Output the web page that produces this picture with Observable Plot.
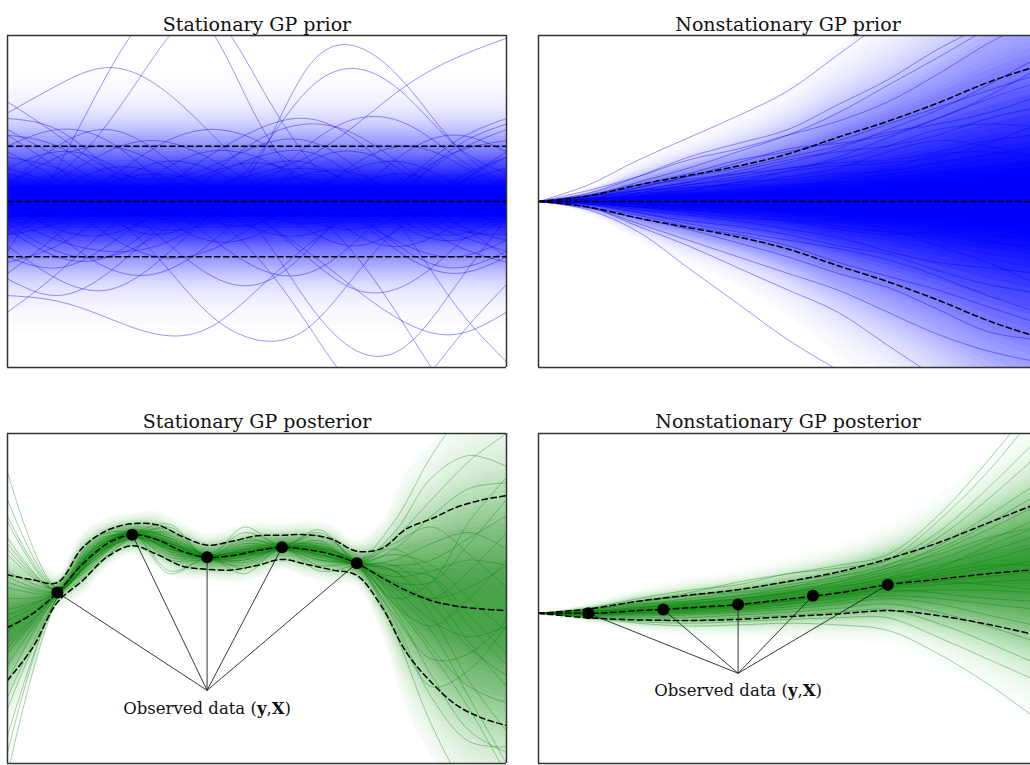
<!DOCTYPE html>
<html>
<head>
<meta charset="utf-8">
<script src="https://cdn.jsdelivr.net/npm/d3@7"></script>
<script src="https://cdn.jsdelivr.net/npm/@observablehq/plot@0.6"></script>
<style>
  html, body { margin: 0; padding: 0; background: #fff; overflow: hidden; }
  #fig { position: relative; width: 1030px; height: 765px; overflow: hidden; }
  .panel { position: absolute; width: 503px; }
  .panel svg { max-width: none; display: block; }
</style>
</head>
<body>
<div id="fig"></div>
<script>
const LABEL = "Observed data (y,X)";

// ---------- Stationary GP prior ----------
const spX = [0, 10];
const spMean = [0, 0];
const spSd = [1, 1];
const spKnots = [0, 1, 2, 3, 4, 5, 6, 7, 8, 9, 10];
const spSamples = [
  [-0.9, 0.6, 2.3, 3.5, 3.2, 1.5, 0.2, -0.6, -0.8, -0.4, 0.2],
  [0.2, 0.5, 1.4, 2.7, 3.4, 2.2, 0.8, 0.0, -0.2, 0.3, 0.9],
  [-0.3, -0.7, -0.9, -0.8, -0.3, 0.7, 2.4, 2.8, 2.1, 1.0, 0.3],
  [0.5, 0.2, -0.3, -0.6, -0.2, 0.8, 2.0, 2.4, 1.9, 1.0, 0.5],
  [-0.5, -1.0, -1.0, -0.4, 0.2, 0.5, 0.8, 1.4, 2.1, 2.6, 2.95],
  [1.6, 2.1, 2.42, 2.1, 1.3, 0.4, -0.3, -0.5, -0.2, 0.3, 0.6],
  [-1.7, -1.8, -2.1, -2.4, -2.3, -1.6, -0.8, -0.2, 0.1, 0.0, -0.3],
  [0.6, 0.3, -0.2, -1.0, -2.0, -2.5, -2.3, -1.3, -0.3, 0.4, 0.8],
  [0.3, 0.8, 1.0, 0.7, 0.2, -0.5, -1.8, -2.7, -2.6, -1.5, -0.3],
  [1.2, 1.0, 0.5, 0.2, -0.2, -1.0, -2.2, -3.4, -3.5, -2.5, -1.5],
  [-0.6, -0.2, 0.3, 0.5, 0.3, 0.0, -0.2, -1.0, -2.3, -3.6, -4.2],
  [0.0, -0.5, -0.6, -0.2, 0.4, 0.8, 0.9, 0.4, -0.6, -1.9, -2.9],
  [-0.6, -0.4, 0.0, 0.3, 0.2, -0.3, -0.9, -1.6, -2.2, -2.4, -2.0],
  [0.8, 0.6, 0.2, -0.1, 0.0, 0.4, 0.6, 0.3, -0.2, -0.6, -0.9],
  [-0.3, 0.2, 0.6, 0.5, 0.0, -0.5, -0.6, -0.2, 0.4, 0.9, 1.1],
  [1.5, 1.3, 0.6, -0.2, -0.7, -0.6, 0.0, 0.7, 1.0, 0.7, 0.1],
  [-1.1, -0.8, -0.2, 0.5, 0.9, 0.8, 0.3, -0.3, -0.8, -1.0, -0.7],
  [0.1, -0.6, -1.2, -1.3, -0.8, 0.0, 0.7, 0.9, 0.5, -0.1, -0.4],
  [-2.0, -1.3, -0.5, 0.0, 0.1, -0.2, -0.4, -0.2, 0.4, 1.1, 1.5],
  [1.2, 0.6, 0.0, -0.3, -0.3, 0.2, 1.0, 1.5, 1.4, 0.8, 0.2],
  [0.3, 1.0, 1.3, 0.9, 0.2, -0.2, -0.1, 0.3, 0.5, 0.1, -0.6],
  [-0.8, -1.4, -1.6, -1.1, -0.3, 0.3, 0.4, 0.0, -0.5, -0.7, -0.3],
  [0.6, 0.9, 0.7, 0.1, -0.6, -1.2, -1.3, -0.7, 0.2, 1.0, 1.4],
  [-0.2, 0.1, 0.0, -0.6, -1.3, -1.5, -0.9, 0.1, 0.9, 1.2, 0.9],
  [1.8, 1.2, 0.6, 0.4, 0.6, 1.0, 1.1, 0.6, -0.2, -0.8, -1.1],
  [-1.4, -1.7, -1.3, -0.5, 0.4, 1.1, 1.4, 1.2, 0.6, 0.0, -0.5],
  [0.4, 0.0, -0.6, -1.0, -0.9, -0.4, 0.2, 0.4, 0.1, -0.4, -1.0],
  [-0.5, -0.1, 0.4, 1.0, 1.3, 1.1, 0.5, -0.2, -0.9, -1.2, -0.9],
  [1.0, 1.3, 1.1, 0.4, -0.3, -0.4, 0.1, 0.6, 0.7, 0.3, -0.2],
  [-1.0, -1.2, -0.8, -0.2, 0.0, -0.3, -1.0, -1.6, -1.5, -0.8, 0.1],
  [0.0, 0.4, 0.9, 1.1, 0.8, 0.3, -0.1, -0.1, 0.3, 0.9, 1.3],
  [-0.1, -0.3, -0.2, 0.2, 0.8, 1.3, 1.5, 1.1, 0.3, -0.4, -0.7],
  [0.9, 0.4, -0.2, -0.5, -0.4, 0.1, 0.5, 0.5, 0.0, -0.5, -0.6],
  [-0.4, -0.9, -1.0, -0.6, 0.1, 0.6, 0.7, 0.2, -0.4, -0.6, -0.2],
  [1.3, 0.8, 0.3, 0.2, 0.5, 0.7, 0.4, -0.3, -1.0, -1.3, -1.0],
  [-1.3, -0.6, 0.2, 0.7, 0.6, 0.1, -0.5, -0.8, -0.4, 0.3, 0.8]
];

// ---------- Nonstationary GP prior ----------
const npX = [0, 1, 2, 3, 4, 5, 6, 7, 8, 9, 10];
const npMean = [0, 0, 0, 0, 0, 0, 0, 0, 0, 0, 0];
const npSd = [0, 0.1, 0.3, 0.47, 0.64, 0.86, 1.16, 1.45, 1.78, 2.15, 2.45];
const npKnots = [0, 1, 2, 3, 4, 5, 6, 7, 8, 9, 10];
const npSamples = [
  [0, 0.3, 0.75, 1.15, 1.55, 2.0, 2.65, 3.3, 3.9, 4.5, 5.0],
  [0, 0.15, 0.45, 0.8, 1.05, 1.3, 1.75, 2.2, 2.75, 3.2, 3.6],
  [0, 0.1, 0.35, 0.6, 0.9, 1.2, 1.6, 2.1, 2.6, 3.1, 3.4],
  [0, 0.2, 0.45, 0.75, 0.95, 1.2, 1.45, 1.8, 2.3, 2.85, 3.3],
  [0, 0.12, 0.3, 0.5, 0.75, 0.9, 1.1, 1.4, 1.7, 2.0, 2.3],
  [0, 0.05, 0.25, 0.45, 0.7, 0.95, 1.05, 1.2, 1.5, 1.9, 2.4],
  [0, 0.1, 0.2, 0.35, 0.55, 0.75, 0.9, 1.0, 1.2, 1.5, 1.7],
  [0, 0.08, 0.28, 0.4, 0.5, 0.6, 0.75, 1.0, 1.3, 1.4, 1.35],
  [0, 0.05, 0.15, 0.3, 0.45, 0.6, 0.7, 0.75, 0.9, 1.1, 1.2],
  [0, 0.07, 0.2, 0.25, 0.3, 0.45, 0.6, 0.9, 1.1, 1.0, 0.8],
  [0, 0.02, 0.1, 0.2, 0.35, 0.4, 0.5, 0.55, 0.7, 0.85, 1.0],
  [0, 0.05, 0.1, 0.15, 0.2, 0.3, 0.35, 0.5, 0.55, 0.45, 0.5],
  [0, 0.03, 0.05, 0.05, 0.1, 0.1, 0.15, 0.25, 0.35, 0.5, 0.65],
  [0, 0.0, 0.0, 0.05, 0.0, -0.1, -0.05, 0.05, 0.2, 0.25, 0.2],
  [0, -0.02, -0.05, -0.1, -0.1, -0.2, -0.25, -0.2, -0.3, -0.4, -0.55],
  [0, -0.05, -0.1, -0.2, -0.3, -0.35, -0.5, -0.6, -0.55, -0.7, -0.9],
  [0, -0.03, -0.15, -0.25, -0.35, -0.5, -0.65, -0.9, -1.1, -1.2, -1.3],
  [0, -0.06, -0.2, -0.35, -0.45, -0.6, -0.8, -0.95, -1.25, -1.5, -1.65],
  [0, -0.1, -0.25, -0.45, -0.6, -0.8, -1.1, -1.35, -1.6, -1.9, -2.2],
  [0, -0.12, -0.3, -0.5, -0.75, -1.0, -1.3, -1.55, -1.95, -2.35, -2.5],
  [0, -0.1, -0.4, -0.7, -1.0, -1.3, -1.6, -2.0, -2.4, -2.7, -2.9],
  [0, -0.1, -0.45, -0.8, -1.2, -1.6, -2.0, -2.6, -3.2, -3.8, -4.2],
  [0, -0.15, -0.55, -1.2, -1.85, -2.5, -3.05, -3.6, -4.2, -4.8, -5.3],
  [0, 0.1, 0.15, 0.2, 0.35, 0.55, 0.8, 1.15, 1.5, 1.85, 2.15],
  [0, 0.05, 0.2, 0.35, 0.5, 0.7, 0.95, 1.3, 1.65, 2.1, 2.6],
  [0, -0.05, -0.1, -0.15, -0.25, -0.35, -0.35, -0.5, -0.8, -1.1, -1.5],
  [0, 0.0, -0.05, -0.1, -0.2, -0.3, -0.45, -0.55, -0.6, -0.75, -0.8],
  [0, 0.05, 0.1, 0.25, 0.3, 0.25, 0.4, 0.6, 0.85, 0.9, 0.8],
  [0, -0.02, -0.1, -0.15, -0.2, -0.1, 0.0, -0.1, -0.2, -0.1, 0.1],
  [0, 0.1, 0.25, 0.45, 0.6, 0.8, 1.0, 1.25, 1.4, 1.6, 1.9],
  [0, -0.05, -0.2, -0.4, -0.55, -0.7, -0.85, -1.05, -1.35, -1.7, -2.0],
  [0, 0.03, 0.15, 0.3, 0.4, 0.55, 0.65, 0.7, 0.8, 1.05, 1.4]
];

// ---------- Stationary GP posterior ----------
const stX = [0, 0.5, 1, 1.5, 2, 2.5, 3, 3.5, 4, 4.5, 5, 5.5, 6, 6.5, 7, 7.5, 8, 8.5, 9, 9.5, 10];
const stMean = [-0.53, -0.28, 0.11, 0.62, 1.0, 1.16, 1.07, 0.86, 0.75, 0.78, 0.87, 0.93, 0.89, 0.8, 0.64, 0.38, 0.14, -0.04, -0.14, -0.19, -0.22];
const stSd = [0.96, 0.62, 0.18, 0.3, 0.24, 0.2, 0.27, 0.27, 0.22, 0.26, 0.27, 0.22, 0.27, 0.28, 0.22, 0.53, 1.13, 1.49, 1.8, 1.98, 2.09];
const stKnots = [0, 1, 1.75, 2.5, 3.25, 4, 4.75, 5.5, 6.25, 7, 7.75, 8.5, 9.25, 10];
const stSamples = [
  [2.3, 0.2, 0.9, 1.2, 1.0, 0.8, 0.85, 0.95, 0.9, 0.7, 1.4, 2.6, 3.5, 4.0],
  [1.5, 0.18, 0.95, 1.25, 1.1, 0.8, 0.8, 0.9, 0.85, 0.65, 0.6, 0.7, 1.1, 1.5],
  [0.8, 0.15, 0.8, 1.15, 1.0, 0.75, 0.9, 1.0, 0.95, 0.66, 0.2, -0.4, -0.7, -0.5],
  [0.2, 0.1, 0.75, 1.1, 0.9, 0.72, 0.75, 0.9, 0.8, 0.62, 0.1, -0.6, -1.8, -3.0],
  [-0.3, 0.12, 0.85, 1.2, 1.05, 0.77, 0.88, 0.96, 0.92, 0.64, -0.2, -1.4, -2.4, -2.8],
  [-0.8, 0.08, 0.9, 1.18, 0.95, 0.74, 0.8, 0.92, 0.82, 0.6, 0.4, 0.5, 0.7, 0.6],
  [-1.2, 0.05, 0.7, 1.12, 0.9, 0.73, 0.78, 0.88, 0.78, 0.58, -0.6, -2.3, -3.5, -4.0],
  [-1.8, 0.02, 0.75, 1.14, 0.92, 0.76, 0.83, 0.94, 0.88, 0.63, 0.9, 1.5, 2.0, 2.1],
  [-2.5, 0.02, 0.8, 1.16, 0.98, 0.78, 0.86, 0.93, 0.86, 0.66, 0.5, -0.1, -0.9, -1.4],
  [-3.2, 0.0, 0.85, 1.2, 1.02, 0.72, 0.76, 0.9, 0.9, 0.68, 0.0, -0.9, -1.6, -1.9],
  [0.5, 0.18, 0.95, 1.22, 1.1, 0.8, 1.2, 0.97, 1.0, 0.7, 1.1, 1.8, 2.5, 3.0],
  [-0.6, 0.1, 0.7, 1.15, 0.7, 0.7, 0.6, 0.9, 0.6, 0.62, 0.3, 0.0, 0.2, 0.6],
  [1.1, 0.14, 0.8, 1.1, 1.3, 0.78, 1.0, 0.95, 1.15, 0.64, -0.3, -1.1, -1.0, -0.4],
  [-0.2, 0.11, 1.0, 1.17, 0.8, 0.74, 0.65, 0.92, 0.75, 0.62, 0.7, 1.0, 1.2, 0.9],
  [-1.5, 0.06, 0.6, 1.1, 1.2, 0.77, 0.95, 0.94, 0.95, 0.65, -0.1, -0.5, 0.0, 0.7],
  [0.0, 0.1, 0.8, 1.2, 0.85, 0.75, 0.9, 0.91, 0.7, 0.63, 0.6, 0.1, -0.8, -1.6],
  [-2.0, 0.03, 0.9, 1.15, 1.05, 0.72, 0.7, 0.92, 0.92, 0.61, -0.4, -1.8, -2.6, -2.7],
  [1.8, 0.19, 0.75, 1.18, 0.95, 0.76, 1.05, 0.96, 0.8, 0.66, 1.2, 2.2, 2.6, 2.4],
  [-0.9, 0.09, 0.85, 1.2, 0.5, 0.74, 0.85, 0.93, 1.2, 0.64, 0.2, 0.0, 0.5, 1.2],
  [0.4, 0.13, 0.8, 1.14, 1.0, 0.79, 0.55, 0.9, 0.85, 0.6, -0.1, -1.0, -2.0, -3.2],
  [-2.8, 0.03, 0.7, 1.1, 0.95, 0.74, 0.8, 0.94, 0.8, 0.65, 0.8, 0.6, 0.0, -0.6],
  [1.0, 0.16, 0.9, 1.2, 1.15, 0.76, 0.85, 0.97, 0.9, 0.63, 0.3, 0.3, 1.0, 1.8],
  [-0.4, 0.1, 0.9, 1.16, 0.9, 0.75, 0.8, 0.9, 0.88, 0.65, 0.5, 0.4, -0.3, -1.0],
  [0.3, 0.12, 0.75, 1.17, 1.0, 0.76, 0.82, 0.93, 0.86, 0.63, -0.5, -1.6, -1.3, -0.5],
  [1.4, 0.15, 1.05, 1.19, 1.25, 0.77, 1.1, 0.94, 1.05, 0.66, 0.9, 0.4, -0.5, -1.2],
  [-1.0, 0.07, 0.65, 1.13, 0.75, 0.73, 0.7, 0.91, 0.7, 0.62, 0.0, 0.3, 1.4, 2.2],
  [0.9, 0.14, 0.55, 1.15, 1.35, 0.76, 1.3, 0.95, 1.25, 0.65, 0.5, -0.3, -1.5, -2.4],
  [-0.5, 0.08, 1.1, 1.18, 0.45, 0.74, 0.45, 0.92, 0.5, 0.63, 1.0, 1.3, 0.8, 0.2]
];
const stObsX = [1, 2.5, 4, 5.5, 7];
const stObsY = [0.11, 1.16, 0.75, 0.93, 0.64];
const stTarget = [4, -1.67];
const stLabelY = -2.0;

// ---------- Nonstationary GP posterior ----------
const nsX = [0, 1, 2, 3, 4, 5, 6, 7, 8, 9, 10];
const nsMean = [-0.27, -0.27, -0.22, -0.17, -0.11, -0.01, 0.1, 0.25, 0.35, 0.45, 0.53];
const nsSd = [0, 0.08, 0.17, 0.23, 0.27, 0.32, 0.38, 0.47, 0.66, 0.92, 1.2];
const nsKnots = [0, 1, 2, 3, 4, 5, 6, 7, 8, 9, 10];
const nsSamples = [
  [-0.27, -0.2, -0.05, 0.05, 0.15, 0.3, 0.45, 0.7, 1.4, 2.3, 3.4],
  [-0.27, -0.22, -0.08, 0.05, 0.12, 0.25, 0.4, 0.6, 1.1, 1.8, 2.6],
  [-0.27, -0.23, -0.12, 0.0, 0.1, 0.2, 0.35, 0.55, 0.95, 1.5, 2.1],
  [-0.27, -0.25, -0.15, -0.05, 0.05, 0.15, 0.3, 0.5, 0.85, 1.25, 1.7],
  [-0.27, -0.24, -0.17, -0.08, 0.0, 0.12, 0.25, 0.45, 0.7, 1.05, 1.45],
  [-0.27, -0.26, -0.2, -0.12, -0.03, 0.08, 0.2, 0.38, 0.6, 0.85, 1.15],
  [-0.27, -0.27, -0.22, -0.15, -0.06, 0.05, 0.15, 0.32, 0.5, 0.7, 0.95],
  [-0.27, -0.25, -0.2, -0.15, -0.1, 0.0, 0.12, 0.28, 0.4, 0.55, 0.7],
  [-0.27, -0.28, -0.24, -0.18, -0.12, -0.04, 0.08, 0.22, 0.32, 0.4, 0.5],
  [-0.27, -0.28, -0.25, -0.2, -0.14, -0.06, 0.05, 0.18, 0.25, 0.3, 0.35],
  [-0.27, -0.29, -0.27, -0.23, -0.17, -0.1, 0.0, 0.12, 0.15, 0.15, 0.1],
  [-0.27, -0.3, -0.3, -0.27, -0.22, -0.15, -0.05, 0.05, 0.0, -0.1, -0.2],
  [-0.27, -0.31, -0.32, -0.3, -0.25, -0.2, -0.1, 0.0, -0.1, -0.3, -0.5],
  [-0.27, -0.32, -0.35, -0.35, -0.3, -0.25, -0.18, -0.1, -0.25, -0.5, -0.8],
  [-0.27, -0.33, -0.38, -0.4, -0.35, -0.3, -0.25, -0.2, -0.45, -0.8, -1.2],
  [-0.27, -0.34, -0.42, -0.45, -0.42, -0.38, -0.35, -0.35, -0.7, -1.1, -1.5],
  [-0.27, -0.35, -0.45, -0.5, -0.48, -0.45, -0.48, -0.58, -1.0, -1.55, -2.2],
  [-0.27, -0.2, -0.1, -0.05, 0.05, 0.2, 0.4, 0.62, 0.9, 1.35, 1.9],
  [-0.27, -0.26, -0.18, -0.1, -0.02, 0.1, 0.22, 0.35, 0.55, 0.95, 1.3],
  [-0.27, -0.29, -0.26, -0.22, -0.15, -0.05, 0.05, 0.2, 0.3, 0.25, 0.15],
  [-0.27, -0.27, -0.23, -0.2, -0.13, -0.04, 0.1, 0.25, 0.45, 0.6, 0.6],
  [-0.27, -0.3, -0.28, -0.25, -0.2, -0.1, 0.02, 0.15, 0.1, 0.0, -0.05],
  [-0.27, -0.24, -0.16, -0.1, 0.0, 0.1, 0.3, 0.55, 0.8, 1.1, 1.3],
  [-0.27, -0.18, 0.0, 0.15, 0.25, 0.45, 0.55, 0.7, 1.2, 2.0, 2.9],
  [-0.27, -0.22, -0.05, 0.1, 0.3, 0.45, 0.6, 0.8, 1.5, 2.5, 3.6]
];
const nsObsX = [1, 2.5, 4, 5.5, 7];
const nsObsY = [-0.27, -0.2, -0.11, 0.05, 0.25];
const nsTarget = [4, -1.36];
const nsLabelY = -1.67;

// ---------- drawing helpers ----------
const BLUE = "#0000ff";
const GREEN = "#008000";

// Stacked translucent bands around the mean; each band's opacity is chosen so the
// accumulated tint falls off smoothly with distance (in units of the dashed band).
function bandMarks(xs, mean, sd, fill, shadeStyle, curve) {
  const {peak, spread, extent, steps} = shadeStyle;
  const tint = (z) => peak * Math.exp(-(z * z) / (2 * spread * spread));
  const levels = d3.range(1, steps + 1).map((i) => (extent * i) / steps);
  const trans = levels.map((k, i) => 1 - tint((k + (i ? levels[i - 1] : 0)) / 2));
  trans.push(1);
  return levels.map((k, i) =>
    Plot.areaY(
      xs.map((x, j) => ({x, lo: mean[j] - k * sd[j], hi: mean[j] + k * sd[j]})),
      {x: "x", y1: "lo", y2: "hi", fill, fillOpacity: 1 - trans[i] / trans[i + 1], curve, clip: true}
    )
  );
}

function sampleMarks(knots, samples, stroke, opacity, curve) {
  const rows = samples.flatMap((s, id) => s.map((y, j) => ({x: knots[j], y, id})));
  return Plot.line(rows, {x: "x", y: "y", z: "id", stroke, strokeOpacity: opacity, strokeWidth: 0.9, curve, clip: true});
}

function meanMarks(xs, mean, sd, curve) {
  const rows = xs.map((x, j) => ({x, m: mean[j], hi: mean[j] + sd[j], lo: mean[j] - sd[j]}));
  const o = {x: "x", stroke: "black", strokeWidth: 1.5, strokeDasharray: "5.5,3.5", curve, clip: true};
  return ["hi", "m", "lo"].map((y) => Plot.line(rows, {...o, y}));
}

function obsMarks(ox, oy, target, labelY) {
  const pts = ox.map((x, i) => ({x, y: oy[i], tx: target[0], ty: target[1]}));
  return [
    Plot.link(pts, {x1: "x", y1: "y", x2: "tx", y2: "ty", stroke: "#222", strokeWidth: 0.9}),
    Plot.dot(pts, {x: "x", y: "y", r: 6, fill: "black"}),
    Plot.text([{x: target[0], y: labelY, t: LABEL}], {x: "x", y: "y", text: "t", fontSize: 16.5, fill: "#111"})
  ];
}

// Panel border: left, top and bottom always; the right side only for the left column.
function borderMarks(withRight) {
  const s = {stroke: "#333", strokeWidth: 1.5};
  const marks = [Plot.ruleX([0], s), Plot.ruleY([-3, 3], s)];
  if (withRight) marks.push(Plot.ruleX([10], s));
  return marks;
}

function panel({left, top, frameH, title, titleDy, withRight, marks}) {
  const svg = Plot.plot({
    width: 503,
    height: 35 + frameH + 2,
    marginTop: 35, marginLeft: 2, marginRight: 2, marginBottom: 2,
    style: {fontFamily: "'DejaVu Serif', serif", background: "transparent", maxWidth: "none"},
    x: {domain: [0, 10], axis: null},
    y: {domain: [-3, 3], axis: null},
    marks: [
      ...marks,
      ...borderMarks(withRight),
      Plot.text([title], {frameAnchor: "top", dy: titleDy, text: (d) => d, fontSize: 19, fill: "#111"})
    ]
  });
  // bold vector symbols in the annotation
  d3.select(svg).selectAll("text")
    .filter(function () { return this.textContent === LABEL; })
    .each(function () {
      const t = d3.select(this);
      t.text(null);
      t.append("tspan").text("Observed data (");
      t.append("tspan").attr("font-weight", "bold").text("y");
      t.append("tspan").text(",");
      t.append("tspan").attr("font-weight", "bold").text("X");
      t.append("tspan").text(")");
    });
  const div = document.createElement("div");
  div.className = "panel";
  div.style.left = left + "px";
  div.style.top = top + "px";
  div.appendChild(svg);
  document.getElementById("fig").appendChild(div);
}

const priorShade = {peak: 0.97, spread: 0.75, extent: 2.35, steps: 48};
const nsPriorShade = {peak: 0.95, spread: 0.85, extent: 2.4, steps: 48};
const postShade = {peak: 0.68, spread: 0.75, extent: 1.9, steps: 40};
const nsPostShade = {peak: 0.75, spread: 0.85, extent: 2.3, steps: 40};

panel({
  left: 5, top: 0, frameH: 332, title: "Stationary GP prior", titleDy: -18, withRight: true,
  marks: [
    ...bandMarks(spX, spMean, spSd, BLUE, priorShade, "linear"),
    sampleMarks(spKnots, spSamples, BLUE, 0.45, "natural"),
    ...meanMarks(spX, spMean, spSd, "linear")
  ]
});

panel({
  left: 536, top: 0, frameH: 332, title: "Nonstationary GP prior", titleDy: -18, withRight: false,
  marks: [
    ...bandMarks(npX, npMean, npSd, BLUE, nsPriorShade, "monotone-x"),
    sampleMarks(npKnots, npSamples, BLUE, 0.45, "catmull-rom"),
    ...meanMarks(npX, npMean, npSd, "monotone-x")
  ]
});

panel({
  left: 5, top: 398, frameH: 330, title: "Stationary GP posterior", titleDy: -19, withRight: true,
  marks: [
    ...bandMarks(stX, stMean, stSd, GREEN, postShade, "catmull-rom"),
    sampleMarks(stKnots, stSamples, GREEN, 0.4, "catmull-rom"),
    ...meanMarks(stX, stMean, stSd, "catmull-rom"),
    ...obsMarks(stObsX, stObsY, stTarget, stLabelY)
  ]
});

panel({
  left: 536, top: 398, frameH: 330, title: "Nonstationary GP posterior", titleDy: -19, withRight: false,
  marks: [
    ...bandMarks(nsX, nsMean, nsSd, GREEN, nsPostShade, "monotone-x"),
    sampleMarks(nsKnots, nsSamples, GREEN, 0.4, "catmull-rom"),
    ...meanMarks(nsX, nsMean, nsSd, "monotone-x"),
    ...obsMarks(nsObsX, nsObsY, nsTarget, nsLabelY)
  ]
});
</script>
</body>
</html>
